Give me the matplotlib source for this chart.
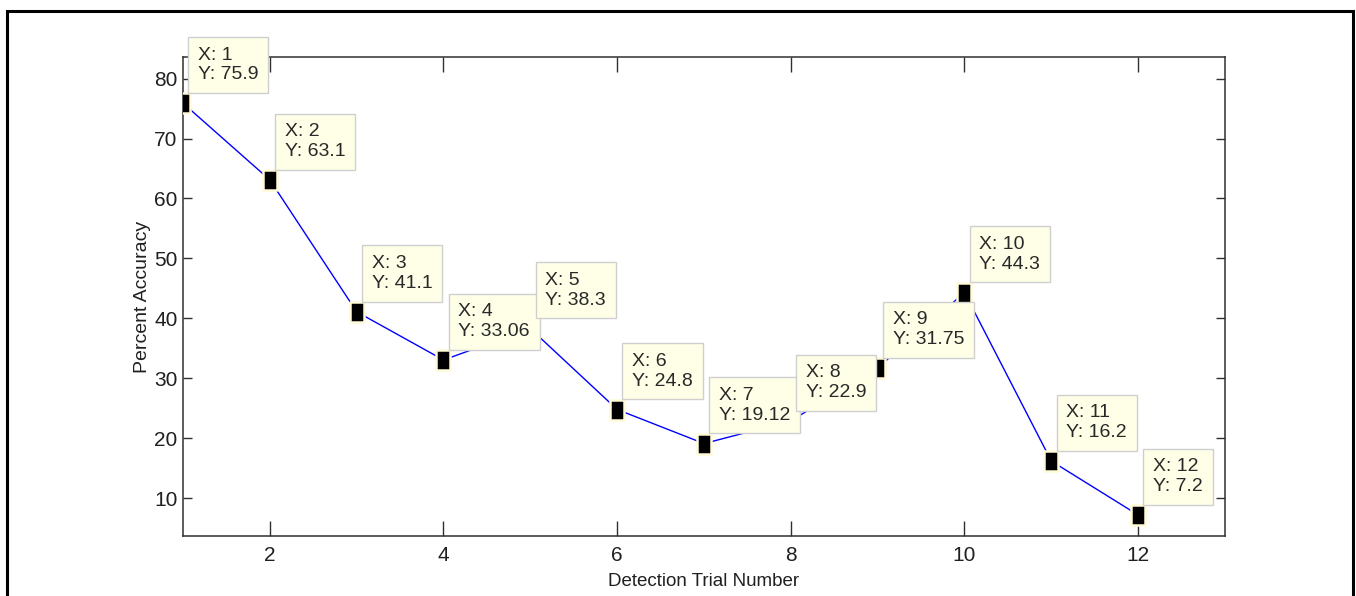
import matplotlib.pyplot as plt
from matplotlib.path import Path
from matplotlib.patches import Rectangle

plt.rcParams['font.family'] = ['Liberation Sans Narrow', 'Liberation Sans', 'DejaVu Sans']

# data
trial = [1, 2, 3, 4, 5, 6, 7, 8, 9, 10, 11, 12]
accuracy = [75.9, 63.1, 41.1, 33.06, 38.3, 24.8, 19.12, 22.9, 31.75, 44.3, 16.2, 7.2]
xticks = [2, 4, 6, 8, 10, 12]
yticks = [10, 20, 30, 40, 50, 60, 70, 80]

W, H = 1356, 596
fig = plt.figure(figsize=(W / 100, H / 100), dpi=100)

# thick frame round the whole figure
fig.patches.append(Rectangle((6.5 / W, -0.05), (1353 - 6.5) / W, 1.05 - 11.5 / H,
                             transform=fig.transFigure, fill=False,
                             edgecolor='black', linewidth=2.2))

ax = fig.add_axes([183 / W, 1 - 536 / H, (1225 - 183) / W, (536 - 57) / H])
ax.plot(trial, accuracy, color='#0000ff', lw=1, zorder=2)

# tall rectangle marker like the datatip
rect = Path([(-0.73, -1), (0.73, -1), (0.73, 1), (-0.73, 1), (-0.73, -1)],
            [Path.MOVETO, Path.LINETO, Path.LINETO, Path.LINETO, Path.CLOSEPOLY])
ax.plot(trial, accuracy, ls='none', marker=rect, markersize=14,
        markerfacecolor='black', markeredgecolor='#fffbd8', markeredgewidth=1.8, zorder=4)

for x, y in zip(trial, accuracy):
    ax.annotate(f'X: {x}\nY: {y}', (x, y), xytext=(15, 20), textcoords='offset pixels',
                ha='left', va='bottom', fontsize=14, color='#282828', linespacing=1.2,
                bbox=dict(boxstyle='square,pad=0.5', fc='#ffffe8', ec='#cfcfcf', lw=1),
                zorder=5)

ax.set_xlim(1, 13)
ax.set_ylim(3.7, 83.6)
ax.set_xticks(xticks)
ax.set_yticks(yticks)
ax.tick_params(axis='both', direction='in', top=True, right=True, labelsize=15,
               width=1, colors='#303030', labelcolor='#202020')
ax.tick_params(axis='x', length=11, pad=7)
ax.tick_params(axis='y', length=6.5, pad=4)
for s in ax.spines.values():
    s.set_color('#303030')
    s.set_linewidth(1.1)

ax.set_xlabel('Detection Trial Number', fontsize=13.5, color='#202020', labelpad=6)
ax.set_ylabel('Percent Accuracy', fontsize=14, color='#202020', labelpad=2)

fig.savefig('out.png', dpi=100)
